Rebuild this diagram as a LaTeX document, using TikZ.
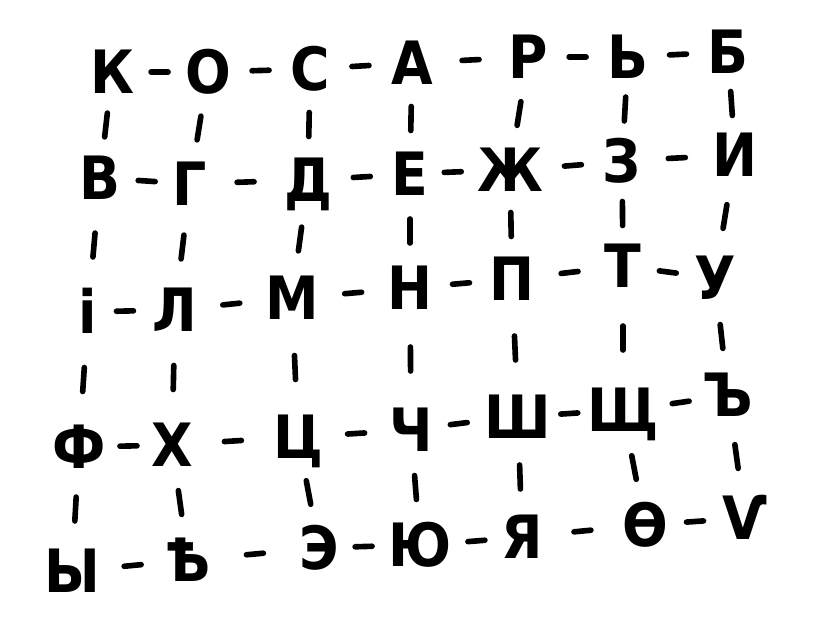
\documentclass[tikz,border=0pt]{standalone}
\usepackage{fontspec}
\usepackage{tikz}
\usetikzlibrary{calc}
\setmainfont{DejaVu Sans Condensed}

\tikzset{
  letter/.style={inner sep=0pt, text height=0.87cm, text depth=0pt, font=\fontsize{34}{36}\selectfont\bfseries},
  hbond/.style={line width=3.2pt, line cap=round,
    to path={let \p1=($(\tikztostart.east)!0.5!(\tikztotarget.west)$) in
      ($(\p1)!0.17cm!(\tikztostart)$) -- ($(\p1)!0.17cm!(\tikztotarget)$)}},
  vbond/.style={line width=3.2pt, line cap=round,
    to path={let \p1=($(\tikztostart.south)!0.5!(\tikztotarget.north)$) in
      ($(\p1)!0.24cm!(\tikztostart)$) -- ($(\p1)!0.24cm!(\tikztotarget)$)}},
}

\begin{document}
\begin{tikzpicture}[x=0.02cm,y=0.02cm]
  \useasboundingbox (0,0) rectangle (821,620);
  % row 1
  \node[letter] at(112,548)(n11){К};
  \node[letter] at(208,548)(n12){О};
  \node[letter] at(310,551)(n13){С};
  \node[letter] at(412,557)(n14){А};
  \node[letter] at(528,563)(n15){Р};
  \node[letter] at(628,563)(n16){Ь};
  \node[letter] at(728,568)(n17){Б};
  % row 2
  \node[letter] at(100,442)(n21){В};
  \node[letter] at(190,436)(n22){Г};
  \node[letter] at(308,440)(n23){Д};
  \node[letter] at(410,446)(n24){Е};
  \node[letter] at(510,450)(n25){Ж};
  \node[letter] at(622,459)(n26){З};
  \node[letter] at(735,465)(n27){И};
  % row 3
  \node[letter] at(88,308)(n31){і};
  \node[letter] at(175,310)(n32){Л};
  \node[letter] at(292,322)(n33){М};
  \node[letter] at(410,332)(n34){Н};
  \node[letter] at(512,341)(n35){П};
  \node[letter] at(623,354)(n36){Т};
  \node[letter] at(715,342)(n37){У};
  % row 4
  \node[letter] at(79,173)(n41){Ф};
  \node[letter] at(172,175)(n42){Х};
  \node[letter] at(298,183)(n43){Ц};
  \node[letter] at(411,190)(n44){Ч};
  \node[letter] at(518,203)(n45){Ш};
  \node[letter] at(623,210)(n46){Щ};
  \node[letter] at(728,225)(n47){Ъ};
  % row 5
  \node[letter] at(72,49)(n51){Ы};
  \node[letter] at(188,60)(n52){Ѣ};
  \node[letter] at(319,72)(n53){Э};
  \node[letter] at(420,75)(n54){Ю};
  \node[letter] at(522,83)(n55){Я};
  \node[letter] at(645,95)(n56){Ѳ};
  \node[letter] at(745,102)(n57){Ѵ};
  % dashes in the rows
  \draw[hbond] (n11) to (n12);
  \draw[hbond] (n12) to (n13);
  \draw[hbond] (n13) to (n14);
  \draw[hbond] (n14) to (n15);
  \draw[hbond] (n15) to (n16);
  \draw[hbond] (n16) to (n17);
  \draw[hbond] (n21) to (n22);
  \draw[hbond] (n22) to (n23);
  \draw[hbond] (n23) to (n24);
  \draw[hbond] (n24) to (n25);
  \draw[hbond] (n25) to (n26);
  \draw[hbond] (n26) to (n27);
  \draw[hbond] (n31) to (n32);
  \draw[hbond] (n32) to (n33);
  \draw[hbond] (n33) to (n34);
  \draw[hbond] (n34) to (n35);
  \draw[hbond] (n35) to (n36);
  \draw[hbond] (n36) to (n37);
  \draw[hbond] (n41) to (n42);
  \draw[hbond] (n42) to (n43);
  \draw[hbond] (n43) to (n44);
  \draw[hbond] (n44) to (n45);
  \draw[hbond] (n45) to (n46);
  \draw[hbond] (n46) to (n47);
  \draw[hbond] (n51) to (n52);
  \draw[hbond] (n52) to (n53);
  \draw[hbond] (n53) to (n54);
  \draw[hbond] (n54) to (n55);
  \draw[hbond] (n55) to (n56);
  \draw[hbond] (n56) to (n57);
  % strokes between the rows
  \draw[vbond] (n11) to (n21);
  \draw[vbond] (n12) to (n22);
  \draw[vbond] (n13) to (n23);
  \draw[vbond] (n14) to (n24);
  \draw[vbond] (n15) to (n25);
  \draw[vbond] (n16) to (n26);
  \draw[vbond] (n17) to (n27);
  \draw[vbond] (n21) to (n31);
  \draw[vbond] (n22) to (n32);
  \draw[vbond] (n23) to (n33);
  \draw[vbond] (n24) to (n34);
  \draw[vbond] (n25) to (n35);
  \draw[vbond] (n26) to (n36);
  \draw[vbond] (n27) to (n37);
  \draw[vbond] (n31) to (n41);
  \draw[vbond] (n32) to (n42);
  \draw[vbond] (n33) to (n43);
  \draw[vbond] (n34) to (n44);
  \draw[vbond] (n35) to (n45);
  \draw[vbond] (n36) to (n46);
  \draw[vbond] (n37) to (n47);
  \draw[vbond] (n41) to (n51);
  \draw[vbond] (n42) to (n52);
  \draw[vbond] (n43) to (n53);
  \draw[vbond] (n44) to (n54);
  \draw[vbond] (n45) to (n55);
  \draw[vbond] (n46) to (n56);
  \draw[vbond] (n47) to (n57);
\end{tikzpicture}
\end{document}
